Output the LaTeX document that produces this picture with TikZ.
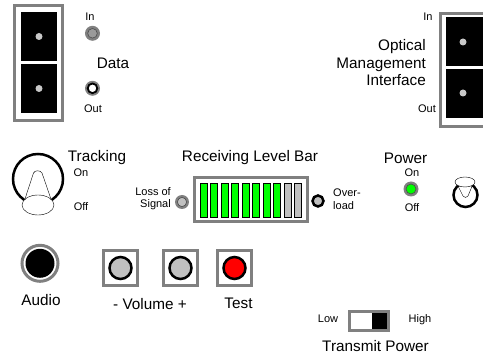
\documentclass[tikz,border=0pt]{standalone}
\usepackage{fontspec}
\setmainfont{Liberation Sans}
\usepackage{xcolor}
\definecolor{rim}{HTML}{808080}
\definecolor{pin}{HTML}{C8C8C8}
\definecolor{ledgray}{HTML}{C0C0C0}
\definecolor{ledgreen}{HTML}{00FF00}
\definecolor{ledred}{HTML}{FF0000}
\begin{document}
\begin{tikzpicture}[x=1pt,y=-1pt,
  big/.style={font=\fontsize{15.3}{17.5}\selectfont,inner sep=0pt,anchor=base},
  small/.style={font=\fontsize{11}{12.5}\selectfont,inner sep=0pt,anchor=base},
  frame/.style={draw=rim,line width=3pt},
  socket/.style={fill=black},
  hole/.style={fill=pin},
  ledrim/.style={fill=rim},
  lamp/.style={draw=black!70,line width=0.6pt},
  bar/.style={draw=black,line width=0.8pt},
  button/.style={draw=black,line width=2.5pt},
  knob/.style={draw=black,line width=2.5pt}
]
\useasboundingbox (0,0) rectangle (483,358);
% ports
\draw[frame] (14.5,5.5) rectangle (62,121);
\fill[socket] (21,12) rectangle (57,61);
\fill[socket] (21,64) rectangle (57,113);
\fill[hole] (39,36.5) circle[radius=3.5pt];
\fill[hole] (39,88.5) circle[radius=3.5pt];
\draw[frame] (440,14) rectangle (495,126.5);
\fill[socket] (446,17) rectangle (490,66);
\fill[socket] (446,69) rectangle (490,118);
\fill[hole] (463,42) circle[radius=3.5pt];
\fill[hole] (463,93) circle[radius=3.5pt];
% leds
\fill[ledrim] (92.5,33.3) circle[radius=7.5pt];
\draw[lamp,fill=ledgray!80!black] (92.5,33.3) circle[radius=4.8pt];
\fill[ledrim] (92.5,88.3) circle[radius=7.5pt];
\draw[black,line width=1.8pt,fill=white] (92.5,88.3) circle[radius=4.8pt];
\fill[ledrim] (182,202) circle[radius=7pt];
\draw[lamp,fill=ledgray] (182,202) circle[radius=4.6pt];
\draw[knob,fill=ledgray] (318,201) circle[radius=5.5pt];
\fill[ledrim] (411,189) circle[radius=7.5pt];
\draw[lamp,fill=ledgreen] (411,189) circle[radius=5pt];
% level bar
\draw[frame] (194.5,177.5) rectangle (307.5,221.5);
\foreach \i in {0,...,7}
  \draw[bar,fill=ledgreen] ({200+10.5*\i},183) rectangle +(7.3,34);
\foreach \i in {8,9}
  \draw[bar,fill=ledgray] ({200+10.5*\i},183) rectangle +(7.3,34);
% knobs
\draw[knob] (38,179) circle[radius=25pt];
\draw (24,202) -- (33.5,173) .. controls (35,170) and (40,170) .. (42,173) -- (52,202);
\draw[fill=white] (38,205) ellipse[x radius=16pt,y radius=10pt];
\draw[knob] (465.5,195) circle[radius=12pt];
\draw (457,184) -- (463,196) .. controls (464,198) and (467,198) .. (468,196) -- (473,184);
\draw[fill=white] (465,182) ellipse[x radius=10pt,y radius=5pt];
% audio and buttons
\draw[rim,line width=3pt] (40,263.3) circle[radius=18pt];
\fill[socket] (40,263.3) circle[radius=14.5pt];
\foreach \cx/\col in {120.5/ledgray,180.5/ledgray,234.5/ledred} {
  \draw[frame] ({\cx-17},250.5) rectangle ({\cx+17},285.5);
  \draw[button,fill=\col] (\cx,268) circle[radius=11pt];
}
\draw[frame,fill=white] (349.5,311.5) rectangle (388.5,330.5);
\fill[socket] (372,313) rectangle (386.5,329);
% labels
\node[small] (datain) at (90,21) {In};
\node[big] (datalabel) at (113,68.5) {Data};
\node[small] (dataout) at (93,113) {Out};
\node[small] (omiin) at (428,21) {In};
\node[big,align=right,anchor=north east] (omilabel) at (426,39.3) {Optical\\Management\\Interface};
\node[small] (omiout) at (427,113) {Out};
\node[big] (tracklabel) at (97,162) {Tracking};
\node[small] (trackon) at (81,177) {On};
\node[small] (trackoff) at (81,211) {Off};
\node[big] (barlabel) at (250,162) {Receiving Level Bar};
\node[small,align=right,anchor=north east] (loslabel) at (171,187) {Loss of\\Signal};
\node[small,align=left,anchor=north west] (ovllabel) at (333,189) {Over-\\load};
\node[big] (powerlabel) at (405.5,163.5) {Power};
\node[small] (poweron) at (412,177) {On};
\node[small] (poweroff) at (412,212) {Off};
\node[big] (audiolabel) at (41,306) {Audio};
\node[big] (volumelabel) at (150,310) {- Volume +};
\node[big] (testlabel) at (238.5,309) {Test};
\node[small] (lowlabel) at (328,323) {Low};
\node[small] (highlabel) at (420,323) {High};
\node[big] (txlabel) at (375.5,352) {Transmit Power};
\end{tikzpicture}
\end{document}
